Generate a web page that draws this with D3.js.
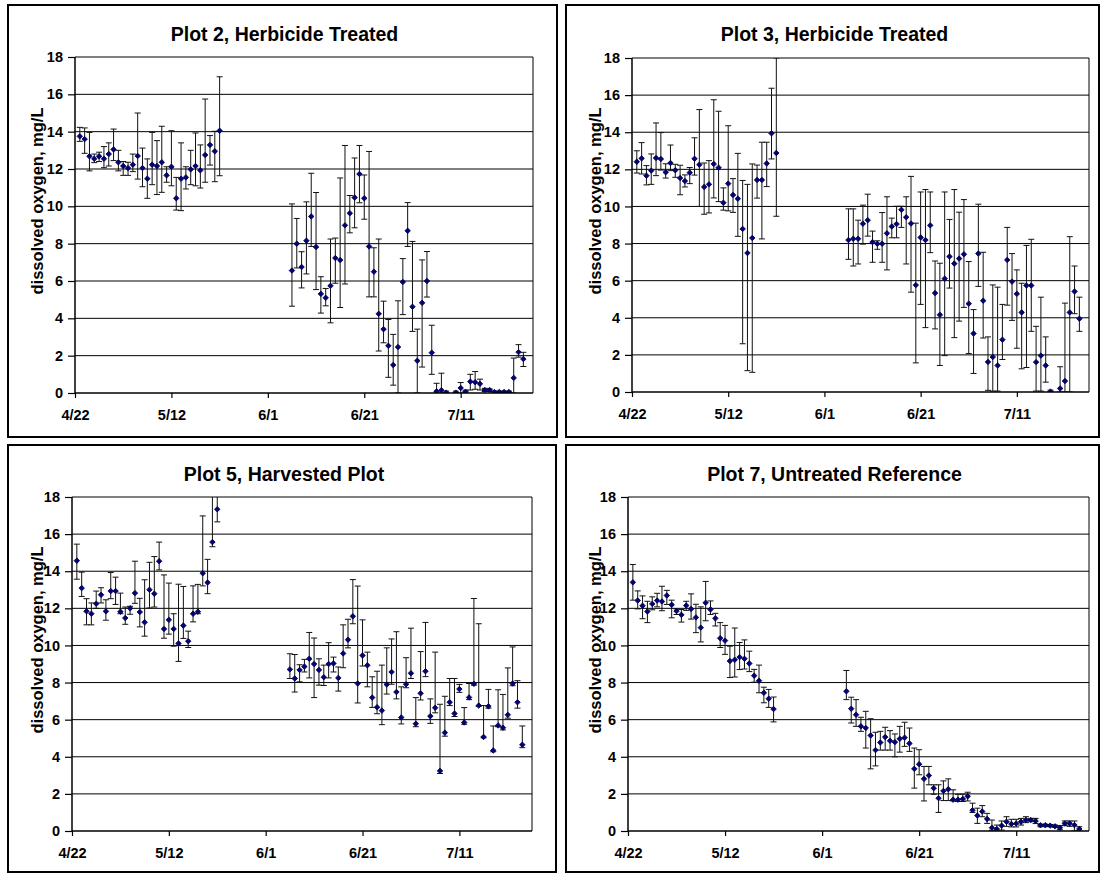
<!DOCTYPE html>
<html>
<head>
<meta charset="utf-8">
<script src="https://cdn.jsdelivr.net/npm/d3@7"></script>
<style>
  body { margin: 0; background: #fff; }
  svg text { font-family: "Liberation Sans", Arial, sans-serif; font-weight: bold; fill: #000; }
</style>
</head>
<body>
<svg id="chart" width="1104" height="876"></svg>
<script>
// x values are days after 4/22; each row: [day, mean, lower, upper]
const xTickDays = [0, 20, 40, 60, 80];
const xTickLabels = ['4/22', '5/12', '6/1', '6/21', '7/11'];
const yTicks = [0, 2, 4, 6, 8, 10, 12, 14, 16, 18];
const titles = ['Plot 2, Herbicide Treated', 'Plot 3, Herbicide Treated', 'Plot 5, Harvested Plot', 'Plot 7, Untreated Reference'];
const yLabel = 'dissolved oxygen, mg/L';

const plot2 = [
  [1,13.75,13.48,14.23],[2,13.6,12.84,14.2],[3,12.68,11.9,13.96],[4,12.55,12.34,12.8],[5,12.68,12.4,12.9],
  [6,12.55,12.07,13.2],[7,12.8,12.16,13.4],[8,13.05,12.45,14.14],[9,12.36,11.9,13.0],[10,12.16,11.66,12.4],
  [11,12.05,11.66,12.36],[12,12.23,11.86,12.8],[13,12.7,11.46,15.0],[14,12.05,11.05,13.12],[15,11.48,10.43,12.54],
  [16,12.23,11.16,13.96],[17,12.16,10.63,13.52],[18,12.36,10.75,14.29],[19,11.66,11.29,12.12],[20,12.12,11.1,14.05],
  [21,10.43,9.8,11.55],[22,11.48,9.77,13.4],[23,11.55,10.93,12.12],[24,11.98,11.16,13.0],[25,12.16,11.1,13.93],
  [26,11.93,10.98,13.29],[27,12.75,11.29,15.75],[28,13.29,12.21,13.79],[29,12.95,11.32,14.02],[30,14.05,11.64,16.94],
  [45,6.56,4.65,10.13],[46,8.0,6.7,9.35],[47,6.75,5.63,7.57],[48,8.16,6.38,10.24],[49,9.46,7.85,11.77],
  [50,7.82,5.54,10.74],[51,5.31,4.28,6.23],[52,5.1,4.67,5.6],[53,5.74,3.76,8.25],[54,7.23,5.88,8.3],
  [55,7.12,4.58,11.52],[56,8.98,5.84,13.26],[57,9.63,8.58,10.58],[58,10.47,8.85,12.59],[59,11.73,10.19,13.26],
  [60,10.43,9.31,11.68],[61,7.85,5.15,12.94],[62,6.5,5.15,7.78],[63,4.24,2.25,8.25],[64,3.42,2.69,4.92],
  [65,2.53,0.84,3.94],[66,1.5,0.42,3.14],[67,2.46,0,4.94],[68,5.95,4.2,7.2],[69,8.69,7.85,10.2],
  [70,4.62,3.3,8.12],[71,1.73,0,3.42],[72,4.83,1.39,7.13],[73,6.0,5.14,7.58],[74,2.16,1.0,3.63],
  [75,0.09,0,0.52],[76,0.15,0,1.06],[77,0.02,0,0.1],[79,0.02,0,0.1],[80,0.27,0,0.56],
  [81,0.07,0,0.15],[82,0.61,0.16,1.0],[83,0.58,0.2,1.15],[84,0.49,0.16,0.74],[85,0.16,0.08,0.25],
  [86,0.16,0.08,0.22],[87,0.05,0,0.1],[88,0.05,0,0.1],[89,0.05,0,0.1],[90,0.05,0,0.1],
  [91,0.81,0,1.87],[92,2.19,1.92,2.59],[93,1.82,1.42,2.18]
];

const plot3 = [
  [1,12.41,11.8,13.0],[2,12.59,11.75,13.44],[3,11.66,11.16,12.2],[4,11.93,11.19,12.83],[5,12.61,11.66,14.5],
  [6,12.56,11.96,13.98],[7,11.84,11.53,12.3],[8,12.34,11.93,13.31],[9,11.95,11.57,12.27],[10,11.53,10.63,12.22],
  [11,11.37,11.05,11.7],[12,11.82,11.23,12.1],[13,12.57,11.69,13.7],[14,12.25,10.0,15.22],[15,11.05,9.58,12.34],
  [16,11.19,9.65,12.47],[17,12.29,10.46,15.75],[18,12.09,10.26,15.13],[19,10.2,9.8,11.0],[20,11.23,9.76,14.35],
  [21,10.62,9.68,11.5],[22,10.42,8.39,12.86],[23,8.79,2.6,11.4],[24,7.49,1.15,11.19],[25,8.3,1.06,12.29],
  [26,11.43,10.45,12.23],[27,11.43,8.25,13.46],[28,12.32,11.07,13.46],[29,13.94,12.56,16.37],[30,12.88,9.47,18.0],
  [45,8.19,7.15,9.87],[46,8.26,6.79,9.87],[47,8.26,6.9,9.26],[48,9.07,7.97,10.07],[49,9.26,8.4,10.66],
  [50,8.08,6.99,8.67],[51,7.99,7.69,8.15],[52,7.99,6.99,9.67],[53,8.55,6.58,10.52],[54,8.92,8.31,9.37],
  [55,9.05,8.31,10.01],[56,9.82,8.87,10.01],[57,9.42,6.9,10.52],[58,9.08,5.38,11.62],[59,5.76,1.57,9.1],
  [60,8.33,4.72,10.78],[61,8.19,3.47,10.91],[62,8.98,7.51,10.78],[63,5.33,3.4,7.06],[64,4.16,1.43,6.94],
  [65,6.11,1.96,10.78],[66,7.3,5.6,9.3],[67,6.92,2.93,10.91],[68,7.19,3.82,9.69],[69,7.42,4.56,10.37],
  [70,4.76,2.07,7.03],[71,3.15,1.0,4.44],[72,7.46,5.69,10.12],[73,4.92,2.91,7.53],[74,1.62,0.09,2.97],
  [75,1.89,0.05,5.77],[76,1.43,0.05,5.65],[77,2.82,1.75,4.72],[78,7.12,4.68,8.87],[79,5.95,3.86,7.46],
  [80,5.29,2.36,6.58],[81,4.29,1.25,5.86],[82,5.74,1.32,7.9],[83,5.74,3.27,8.23],[84,1.61,0.05,3.54],
  [85,1.96,0.05,5.11],[86,1.43,0.53,2.97],[87,0.02,0,0.1],[89,0.19,0,1.36],[90,0.59,0,4.79],
  [91,4.29,0,8.37],[92,5.42,4.22,6.79],[93,3.95,3.27,5.11]
];

const plot5 = [
  [1,14.57,13.57,15.46],[2,13.09,12.64,13.95],[3,11.84,11.11,12.52],[4,11.71,11.11,12.29],[5,12.25,12.0,12.93],
  [6,12.73,12.29,13.11],[7,11.84,11.36,12.46],[8,12.93,12.52,13.93],[9,12.93,12.21,13.68],[10,11.82,11.71,12.82],
  [11,11.48,11.14,12.07],[12,12.0,11.68,12.11],[13,12.82,12.27,14.54],[14,11.8,11.0,12.54],[15,11.25,10.5,13.54],
  [16,13.0,12.02,14.48],[17,12.79,12.07,14.79],[18,14.54,14.07,15.57],[19,10.89,10.39,13.8],[20,11.38,10.61,13.36],
  [21,10.89,9.96,11.71],[22,10.11,9.14,13.3],[23,11.07,10.38,13.18],[24,10.23,9.89,10.77],[25,11.71,11.27,13.21],
  [26,11.82,11.71,13.29],[27,13.89,13.21,16.98],[28,13.39,12.79,14.64],[29,15.57,15.32,18.6],[30,17.34,16.66,18.6],
  [45,8.71,8.22,9.55],[46,8.22,7.49,9.51],[47,8.68,8.04,8.96],[48,8.86,8.57,9.25],[49,9.28,8.25,10.7],
  [50,9.0,7.19,10.4],[51,8.68,7.86,9.28],[52,8.29,7.84,8.94],[53,9.0,8.25,10.15],[54,9.03,8.57,9.37],
  [55,8.25,7.54,8.84],[56,9.57,8.8,11.11],[57,10.31,9.87,11.41],[58,11.57,11.17,13.55],[59,7.95,6.9,13.2],
  [60,9.46,8.89,11.38],[61,8.93,7.77,9.64],[62,7.19,6.66,8.31],[63,6.67,6.32,8.61],[64,6.49,5.73,8.94],
  [65,7.9,7.38,9.87],[66,8.57,7.91,10.35],[67,7.49,7.12,10.74],[68,6.12,5.77,7.77],[69,7.91,7.72,9.34],
  [70,8.5,8.22,10.93],[71,5.78,5.62,7.19],[72,7.42,7.06,9.67],[73,8.61,8.32,11.24],[74,6.19,5.8,7.12],
  [75,6.64,6.37,9.64],[76,3.24,3.1,6.83],[77,5.3,5.11,7.26],[78,6.94,6.76,8.22],[79,6.33,6.17,8.22],
  [80,7.65,7.47,7.9],[81,5.85,5.75,6.65],[82,7.2,7.08,7.95],[83,7.93,7.86,12.53],[84,6.76,6.72,11.17],
  [85,5.07,5.02,6.76],[86,6.72,6.62,7.63],[87,4.34,4.27,5.66],[88,5.69,5.62,7.61],[89,5.57,5.45,7.36],
  [90,6.26,6.08,8.79],[91,7.95,7.83,9.92],[92,6.94,6.62,8.1],[93,4.65,4.49,5.66]
];

const plot7 = [
  [1,13.4,12.44,14.36],[2,12.42,11.97,12.94],[3,12.14,11.44,12.67],[4,11.83,11.23,12.38],[5,12.24,11.92,12.62],
  [6,12.42,12.08,12.81],[7,12.37,11.87,13.19],[8,12.69,12.21,12.97],[9,12.19,11.49,12.44],[10,11.85,11.67,11.97],
  [11,11.65,11.26,11.94],[12,12.15,11.89,12.38],[13,11.97,11.42,12.78],[14,11.51,10.69,12.22],[15,10.96,10.19,12.08],
  [16,12.3,11.33,13.45],[17,11.94,11.67,12.4],[18,11.46,11.05,11.73],[19,10.39,9.89,11.23],[20,10.26,9.52,11.08],
  [21,9.16,8.27,9.96],[22,9.23,8.3,10.94],[23,9.37,8.7,10.16],[24,9.28,8.73,10.3],[25,9.03,8.59,9.69],
  [26,8.37,8.02,8.71],[27,8.1,7.45,8.94],[28,7.45,6.91,7.75],[29,7.13,6.66,7.63],[30,6.57,5.88,7.22],
  [45,7.53,7.08,8.65],[46,6.59,5.82,7.21],[47,6.27,5.64,7.08],[48,5.64,5.37,6.13],[49,5.55,4.47,6.45],
  [50,5.15,3.35,6.05],[51,4.36,3.51,5.32],[52,4.77,4.36,5.37],[53,5.06,4.36,5.59],[54,4.86,4.36,5.41],
  [55,4.79,4.0,5.23],[56,4.97,4.25,5.64],[57,5.03,4.56,5.86],[58,4.72,4.29,5.55],[59,3.35,2.31,4.47],
  [60,3.6,3.03,4.38],[61,2.81,1.62,3.48],[62,2.99,2.49,3.48],[63,2.31,1.98,2.49],[64,1.77,1.0,2.49],
  [65,2.16,1.64,2.7],[66,2.25,1.64,2.81],[67,1.69,1.62,2.22],[68,1.69,1.59,1.98],[69,1.73,1.59,1.98],
  [70,1.87,1.62,2.09],[71,1.12,1.0,1.5],[72,0.83,0.41,1.23],[73,1.05,0.77,1.37],[74,0.65,0.41,0.95],
  [75,0.18,0.04,0.59],[76,0.11,0,0.32],[77,0.29,0.05,0.54],[78,0.5,0.25,0.77],[79,0.38,0.22,0.63],
  [80,0.41,0.22,0.63],[81,0.5,0.32,0.68],[82,0.59,0.45,0.77],[83,0.59,0.5,0.68],[84,0.54,0.4,0.68],
  [85,0.31,0.23,0.36],[86,0.31,0.25,0.37],[87,0.29,0.23,0.35],[88,0.25,0.2,0.32],[89,0.18,0.07,0.29],
  [90,0.41,0.29,0.54],[91,0.41,0.25,0.54],[92,0.32,0,0.54],[93,0.11,0,0.23]
];

const panels = [
  { data: plot2, title: titles[0], box: [8, 5, 557, 437],   plot: [75, 57, 533, 393] },
  { data: plot3, title: titles[1], box: [566, 5, 1099, 437], plot: [632, 58, 1089, 392] },
  { data: plot5, title: titles[2], box: [8, 445, 556, 872], plot: [72, 497, 532, 831] },
  { data: plot7, title: titles[3], box: [566, 445, 1099, 872], plot: [628, 497, 1089, 831] }
];

const svg = d3.select('#chart');
panels.forEach((p, i) => drawPanel(p, i));

function drawPanel(p, i) {
  const [bx0, by0, bx1, by1] = p.box;
  const [px0, py0, px1, py1] = p.plot;
  const g = svg.append('g');

  g.append('rect')
    .attr('x', bx0).attr('y', by0)
    .attr('width', bx1 - bx0).attr('height', by1 - by0)
    .attr('fill', '#fff')
    .attr('stroke', '#000')
    .attr('stroke-width', 2);

  const x = d3.scaleLinear().domain([0, 95]).range([px0, px1]);
  const y = d3.scaleLinear().domain([0, 18]).range([py1, py0]);

  g.append('text')
    .attr('x', (bx0 + bx1) / 2 + 2)
    .attr('y', by0 + 36)
    .attr('text-anchor', 'middle')
    .style('font-size', '19.5px')
    .text(p.title);

  // gridlines
  g.append('g')
    .selectAll('line')
    .data(yTicks.filter(d => d > 0))
    .enter()
    .append('line')
    .attr('x1', px0).attr('x2', px1)
    .attr('y1', d => y(d)).attr('y2', d => y(d))
    .attr('stroke', '#000')
    .attr('stroke-width', 1);

  // right border of plot area
  g.append('line')
    .attr('x1', px1).attr('x2', px1)
    .attr('y1', py0).attr('y2', py1)
    .attr('stroke', '#000');

  const clipId = 'clip' + i;
  g.append('clipPath').attr('id', clipId)
    .append('rect')
    .attr('x', px0 - 5).attr('y', py0)
    .attr('width', px1 - px0 + 10).attr('height', py1 - py0);

  const marks = g.append('g').attr('clip-path', `url(#${clipId})`);

  const bars = marks.selectAll('.err')
    .data(p.data)
    .enter()
    .append('g')
    .attr('class', 'err')
    .attr('stroke', '#111')
    .attr('stroke-width', 1);

  bars.append('line')
    .attr('x1', d => x(d[0])).attr('x2', d => x(d[0]))
    .attr('y1', d => y(d[2])).attr('y2', d => y(d[3]));
  bars.append('line')
    .attr('x1', d => x(d[0]) - 3).attr('x2', d => x(d[0]) + 3)
    .attr('y1', d => y(d[3])).attr('y2', d => y(d[3]));
  bars.append('line')
    .attr('x1', d => x(d[0]) - 3).attr('x2', d => x(d[0]) + 3)
    .attr('y1', d => y(d[2])).attr('y2', d => y(d[2]));

  const diamond = d3.symbol().type(d3.symbolSquare).size(15);
  marks.selectAll('.pt')
    .data(p.data)
    .enter()
    .append('path')
    .attr('class', 'pt')
    .attr('d', diamond)
    .attr('transform', d => `translate(${x(d[0])},${y(d[1])}) rotate(45)`)
    .attr('fill', '#000080')
    .attr('stroke', '#000040')
    .attr('stroke-width', 0.8);

  // axes
  const yAxis = g.append('g')
    .attr('transform', `translate(${px0},0)`)
    .call(d3.axisLeft(y).tickValues(yTicks).tickSize(7).tickPadding(5).tickFormat(d3.format('d')));
  const xAxis = g.append('g')
    .attr('transform', `translate(0,${py1})`)
    .call(d3.axisBottom(x).tickValues(xTickDays).tickSize(5).tickPadding(12)
      .tickFormat((d, k) => xTickLabels[k]));

  [yAxis, xAxis].forEach(a => {
    a.select('.domain').attr('stroke', '#000').attr('stroke-width', 1.5);
    a.selectAll('.tick line').attr('stroke', '#000').attr('stroke-width', 1.2);
    a.selectAll('text')
      .style('font-family', '"Liberation Sans", Arial, sans-serif')
      .style('font-weight', 'bold')
      .style('font-size', '14.5px')
      .attr('fill', '#000');
  });
  yAxis.select('.domain').attr('d', `M0,${py0}V${py1}`);
  xAxis.select('.domain').attr('d', `M${px0},0H${px1}`);

  g.append('text')
    .attr('transform', `translate(${bx0 + 35},${(py0 + py1) / 2 - 24}) rotate(-90)`)
    .attr('text-anchor', 'middle')
    .style('font-size', '16.5px')
    .text(yLabel);
}
</script>
</body>
</html>
